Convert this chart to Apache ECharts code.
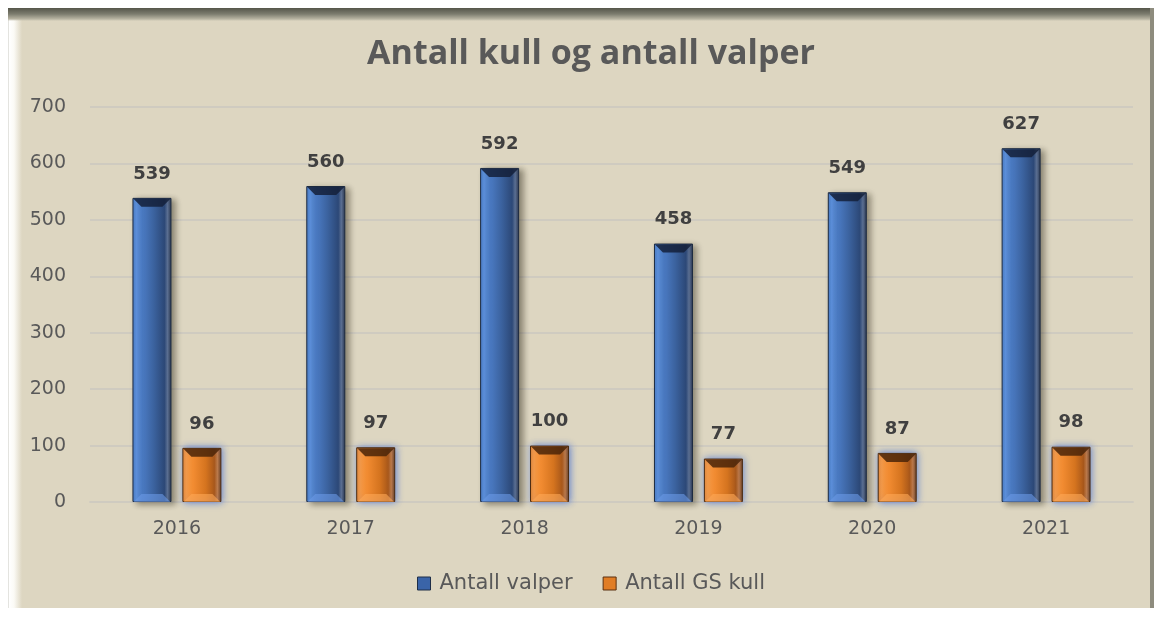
<!DOCTYPE html>
<html lang="no">
<head>
  <meta charset="UTF-8">
  <title>Antall kull og antall valper</title>
  <script src="https://cdn.jsdelivr.net/npm/echarts@6/dist/echarts.min.js"></script>
  <style>
    html, body { margin: 0; padding: 0; background: #fff; }
    #frame {
      position: absolute; left: 8px; top: 8px; width: 1142px; height: 600px;
      border-right: 4px solid #8e8c7e;
      background:
        linear-gradient(to bottom, #55564a 0, #7c7c6e 6px, #b8b4a2 11px, rgba(221,214,193,0) 13px) top left / 100% 13px no-repeat,
        linear-gradient(to right, #c8c8c0 0, #fff 1px, #fbfaf5 6px, #ddd6c1 14px) top left / 14px 100% no-repeat,
        #ddd6c1;
    }
    #main { position: absolute; left: 0; top: 0; width: 1157px; height: 617px; }
  </style>
</head>
<body>
<div id="frame"></div>
<div id="main"></div>
<script type="text/javascript">
  // kategorier og verdier lest av bildet
  const years = ['2016', '2017', '2018', '2019', '2020', '2021'];
  const valper = [539, 560, 592, 458, 549, 627];
  const gsKull = [96, 97, 100, 77, 87, 98];

  const myChart = echarts.init(document.getElementById('main'));

  const BAR_W = 39;
  const BAR_OFF = 25; // avstand fra kategorimidten til hver søyles midte

  const blueFill = new echarts.graphic.LinearGradient(0, 0, 1, 0, [
    { offset: 0, color: '#4a7cc8' },
    { offset: 0.1, color: '#5e95e4' },
    { offset: 0.25, color: '#4b7bc4' },
    { offset: 0.55, color: '#3b629e' },
    { offset: 0.82, color: '#2c4877' },
    { offset: 0.9, color: '#5b6f92' },
    { offset: 1, color: '#2a3750' }
  ]);
  const orangeFill = new echarts.graphic.LinearGradient(0, 0, 1, 0, [
    { offset: 0, color: '#f08a2c' },
    { offset: 0.1, color: '#ff9c3e' },
    { offset: 0.3, color: '#f08a30' },
    { offset: 0.6, color: '#d5741f' },
    { offset: 0.82, color: '#a9581a' },
    { offset: 0.9, color: '#c07a45' },
    { offset: 1, color: '#6a3a14' }
  ]);

  const labelStyle = {
    show: true,
    position: 'top',
    distance: 15,
    fontFamily: 'DejaVu Sans',
    fontWeight: 'bold',
    fontSize: 18,
    color: '#404040'
  };

  // skrå kanter øverst og nederst på søylene (3D-effekt)
  function bevel(offset, topColor, bottomColor) {
    return function (params, api) {
      const top = api.coord([api.value(0), api.value(1)]);
      const base = api.coord([api.value(0), 0]);
      const x0 = top[0] + offset - BAR_W / 2 + 1;
      const x1 = top[0] + offset + BAR_W / 2 - 1;
      const y0 = top[1] + 1;
      const y1 = base[1];
      const d = 8;
      return {
        type: 'group',
        children: [
          {
            type: 'polygon',
            shape: { points: [[x0, y0], [x1, y0], [x1 - d, y0 + d], [x0 + d, y0 + d]] },
            style: { fill: topColor, opacity: 0.85 }
          },
          {
            type: 'polygon',
            shape: { points: [[x0, y1], [x1, y1], [x1 - d, y1 - d], [x0 + d, y1 - d]] },
            style: { fill: bottomColor, opacity: 0.6 }
          }
        ]
      };
    };
  }

  myChart.setOption({
    backgroundColor: 'transparent',
    title: {
      text: 'Antall kull og antall valper',
      left: 586,
      textAlign: 'center',
      top: 32,
      textStyle: {
        fontFamily: 'Open Sans',
        fontWeight: 'bold',
        fontSize: 34,
        color: '#595959'
      }
    },
    legend: {
      bottom: 18,
      left: 412,
      itemWidth: 13,
      itemHeight: 13,
      itemGap: 30,
      textStyle: { fontFamily: 'DejaVu Sans', fontSize: 21, color: '#595959', padding: [0, 0, 0, 4] },
      data: [
        { name: 'Antall valper', icon: 'rect', itemStyle: { color: '#3a64a8', borderColor: '#1e2e48', borderWidth: 1 } },
        { name: 'Antall GS kull', icon: 'rect', itemStyle: { color: '#e07d25', borderColor: '#5a3010', borderWidth: 1 } }
      ]
    },
    grid: { left: 90, right: 24, top: 107, bottom: 115 },
    xAxis: {
      type: 'category',
      data: years,
      axisLine: { show: true, lineStyle: { color: '#cfcbc0', width: 2 } },
      axisTick: { show: false },
      axisLabel: { margin: 18, fontFamily: 'DejaVu Sans', fontSize: 19, color: '#595959' }
    },
    yAxis: {
      type: 'value',
      min: 0,
      max: 700,
      interval: 100,
      axisLine: { show: false },
      axisTick: { show: false },
      splitLine: { lineStyle: { color: '#cfcbc0', width: 2 } },
      axisLabel: { margin: 24, fontFamily: 'DejaVu Sans', fontSize: 19, color: '#595959' }
    },
    series: [
      {
        name: 'Antall valper',
        type: 'bar',
        data: valper,
        barWidth: BAR_W,
        barGap: '28%',
        itemStyle: {
          color: blueFill,
          borderColor: '#1c2a40',
          borderWidth: 1,
          shadowColor: 'rgba(40,35,20,0.45)',
          shadowBlur: 6,
          shadowOffsetX: 4,
          shadowOffsetY: 2
        },
        label: labelStyle
      },
      {
        name: 'Antall GS kull',
        type: 'bar',
        data: gsKull,
        barWidth: BAR_W,
        itemStyle: {
          color: orangeFill,
          borderColor: '#4a2a10',
          borderWidth: 1,
          shadowColor: 'rgba(70,110,210,0.85)',
          shadowBlur: 7,
          shadowOffsetX: 1,
          shadowOffsetY: 0
        },
        label: labelStyle
      },
      {
        type: 'custom',
        silent: true,
        z: 3,
        data: valper.map(function (v, i) { return [i, v]; }),
        renderItem: bevel(-BAR_OFF, '#14203a', '#6a9ae6')
      },
      {
        type: 'custom',
        silent: true,
        z: 3,
        data: gsKull.map(function (v, i) { return [i, v]; }),
        renderItem: bevel(BAR_OFF, '#4a2508', '#ffa855')
      }
    ]
  });
</script>
</body>
</html>
